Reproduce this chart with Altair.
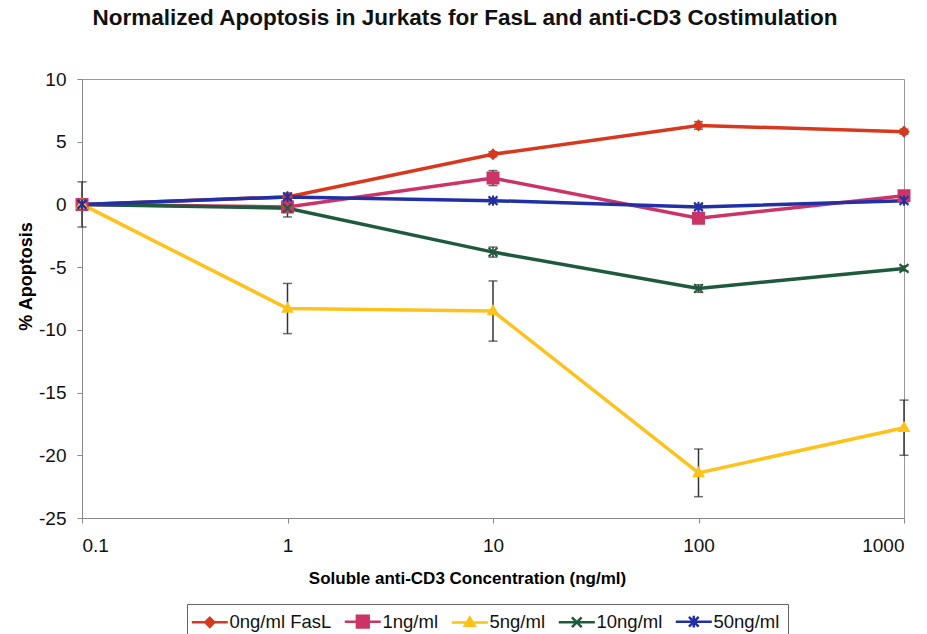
import altair as alt
import pandas as pd

# Soluble anti-CD3 concentrations (ng/ml)
conc = [0.1, 1, 10, 100, 1000]

series_names = ["0ng/ml FasL", "1ng/ml", "5ng/ml", "10ng/ml", "50ng/ml"]

# Normalized % apoptosis for each FasL dose
fasl_0 = [0.0, 0.6, 4.0, 6.3, 5.8]
fasl_1 = [0.0, -0.2, 2.1, -1.1, 0.7]
fasl_5 = [0.0, -8.3, -8.5, -21.4, -17.8]
fasl_10 = [0.0, -0.3, -3.8, -6.7, -5.1]
fasl_50 = [0.0, 0.6, 0.3, -0.2, 0.3]

# Error (± half-range) for each point
err_0 = [1.8, 0.3, 0.2, 0.3, 0.2]
err_1 = [0.0, 0.8, 0.6, 0.3, 0.3]
err_5 = [0.0, 2.0, 2.4, 1.9, 2.2]
err_10 = [0.0, 0.3, 0.4, 0.3, 0.2]
err_50 = [0.0, 0.2, 0.2, 0.2, 0.2]

colors = ["#D8381E", "#CC3468", "#FFC21A", "#1F5A3C", "#2230A8"]

# Marker outlines (unit box, scaled by the mark size)
marker_paths = [
    "M0,-1.7L1.6,0L0,1.7L-1.6,0Z",
    "M-2,-2H2V2H-2Z",
    "M0,-1.8L1.7,1.2L-1.7,1.2Z",
    "M-1.6,-1.6L1.6,1.6M1.6,-1.6L-1.6,1.6",
    "M-1.6,-1.6L1.6,1.6M1.6,-1.6L-1.6,1.6M0,-1.9L0,1.9",
]
# Legend keys: a short line segment with the marker on it
LINE = "M-1.8,0L3.4,0"
legend_paths = [
    LINE + "M0.8,-0.65L1.45,0L0.8,0.65L0.15,0Z",
    LINE + "M-0.05,-0.85H1.65V0.85H-0.05Z",
    LINE + "M0.8,-0.7L1.5,0.5L0.1,0.5Z",
    LINE + "M0.1,-0.7L1.5,0.7M1.5,-0.7L0.1,0.7",
    LINE + "M0.1,-0.7L1.5,0.7M1.5,-0.7L0.1,0.7M0.8,-0.85L0.8,0.85",
]

values = [fasl_0, fasl_1, fasl_5, fasl_10, fasl_50]
errors = [err_0, err_1, err_5, err_10, err_50]

rows = []
for name, ys, es in zip(series_names, values, errors):
    for x, y, e in zip(conc, ys, es):
        rows.append({"conc": x, "apoptosis": y, "err": e, "series": name,
                     "lo": y - e, "hi": y + e})
df = pd.DataFrame(rows)

FONT = "Liberation Sans"

x_enc = alt.X(
    "conc:Q",
    scale=alt.Scale(type="log", domain=[0.1, 1000]),
    axis=alt.Axis(
        values=conc,
        labelExpr="datum.value < 1 ? '0.1' : format(datum.value, 'd')",
        title="Soluble anti-CD3 Concentration (ng/ml)",
        titleX=385, titleY=52, titleFontSize=17, titleFontWeight="bold",
        labelFontSize=19, labelPadding=13, tickSize=5, grid=False,
        domainColor="#888", tickColor="#888", labelColor="#111",
    ),
)
y_enc = alt.Y(
    "apoptosis:Q",
    scale=alt.Scale(domain=[-25, 10], nice=False),
    axis=alt.Axis(
        values=[10, 5, 0, -5, -10, -15, -20, -25],
        labelExpr="'' + datum.value",
        title="% Apoptosis",
        titleX=-47, titleY=197, titleFontSize=18, titleFontWeight="bold",
        labelFontSize=19, labelPadding=11, tickSize=5, grid=False,
        domainColor="#888", tickColor="#888", labelColor="#111",
    ),
)

col_scale = alt.Scale(domain=series_names, range=colors)

lines = alt.Chart(df).mark_line(strokeWidth=3.5).encode(
    x=x_enc, y=y_enc,
    color=alt.Color("series:N", scale=col_scale, legend=None),
    detail="series:N",
)

errbars = alt.Chart(df[df["err"] > 0]).mark_errorbar(
    ticks=alt.MarkConfig(size=9), color="#333", thickness=1.5
).encode(
    x=alt.X("conc:Q"),
    y=alt.Y("lo:Q", title="% Apoptosis"),
    y2="hi:Q",
)

points = alt.Chart(df).mark_point(filled=False, opacity=1, strokeWidth=2, size=30).encode(
    x=alt.X("conc:Q"), y=alt.Y("apoptosis:Q"),
    color=alt.Color("series:N", scale=col_scale, legend=None),
    fill=alt.Fill("series:N", scale=col_scale, legend=None),
    shape=alt.Shape("series:N", scale=alt.Scale(domain=series_names, range=marker_paths), legend=None),
)

# Legend-only layer: points placed below the log domain and clipped away
legend_df = pd.DataFrame({"key": series_names, "conc": [1e-4] * 5, "apoptosis": [0.0] * 5})
leg = alt.Legend(
    title=None, orient="none", legendX=105, legendY=525, direction="horizontal",
    columns=5, labelFontSize=18.5, labelFont=FONT, labelColor="#111",
    symbolSize=192, symbolStrokeWidth=2.5, labelOffset=16, columnPadding=7,
    strokeColor="#666", padding=8, symbolOpacity=1,
)
legend_layer = alt.Chart(legend_df).mark_point(filled=False, opacity=1, clip=True).encode(
    x=alt.X("conc:Q"), y=alt.Y("apoptosis:Q"),
    color=alt.Color("key:N", scale=col_scale, legend=leg),
    fill=alt.Fill("key:N", scale=col_scale, legend=leg),
    shape=alt.Shape("key:N", scale=alt.Scale(domain=series_names, range=legend_paths), legend=leg),
)

chart = alt.layer(lines, errbars, points, legend_layer).resolve_scale(
    color="independent", fill="independent", shape="independent"
).properties(
    width=822, height=439,
    title=alt.TitleParams(
        "Normalized Apoptosis in Jurkats for FasL and anti-CD3 Costimulation",
        fontSize=22.5, font=FONT, fontWeight="bold", anchor="middle", dx=-28, offset=41,
        color="#111",
    ),
    autosize=alt.AutoSizeParams(type="none"),
    padding={"left": 82, "top": 79, "right": 23, "bottom": 116},
).configure(
    font=FONT,
).configure_view(
    stroke="#999", strokeWidth=1,
).configure_axis(
    labelFont=FONT, titleFont=FONT,
)

chart.save("out.html", embed_options={"renderer": "svg", "actions": False})
